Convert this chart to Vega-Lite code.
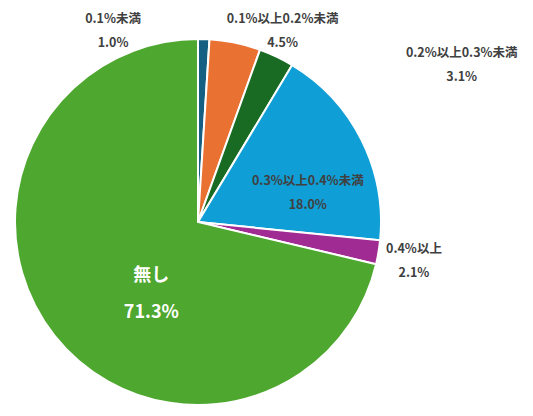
{
  "$schema": "https://vega.github.io/schema/vega-lite/v6.json",
  "width": 396,
  "height": 388,
  "autosize": "none",
  "padding": {"left": 0, "top": 28, "right": 137, "bottom": 0},
  "background": "white",
  "config": {"view": {"stroke": null}},
  "data": {
    "values": [
      {"rank": 1, "cat": "0.1%未満", "value": 1.0, "label": "0.1%未満\n1.0%"},
      {"rank": 2, "cat": "0.1%以上0.2%未満", "value": 4.5, "label": "0.1%以上0.2%未満\n4.5%"},
      {"rank": 3, "cat": "0.2%以上0.3%未満", "value": 3.1, "label": "0.2%以上0.3%未満\n3.1%"},
      {"rank": 4, "cat": "0.3%以上0.4%未満", "value": 18.0, "label": "0.3%以上0.4%未満\n18.0%"},
      {"rank": 5, "cat": "0.4%以上", "value": 2.1, "label": "0.4%以上\n2.1%"},
      {"rank": 6, "cat": "無し", "value": 71.3, "label": "無し\n71.3%"}
    ]
  },
  "encoding": {
    "theta": {"field": "value", "type": "quantitative", "stack": true},
    "order": {"field": "rank", "type": "quantitative"}
  },
  "layer": [
    {
      "mark": {"type": "arc", "outerRadius": 183, "stroke": "white", "strokeWidth": 2},
      "encoding": {
        "color": {
          "field": "cat",
          "type": "nominal",
          "sort": null,
          "scale": {
            "domain": ["0.1%未満", "0.1%以上0.2%未満", "0.2%以上0.3%未満", "0.3%以上0.4%未満", "0.4%以上", "無し"],
            "range": ["#156082", "#E97132", "#196B24", "#0F9ED5", "#A02B93", "#4EA72E"]
          },
          "legend": null
        }
      }
    },
    {
      "mark": {"type": "text", "radius": 194, "dx": -91, "dy": -9, "lineBreak": "\n", "lineHeight": 24, "font": "Noto Sans CJK JP", "fontSize": 12.5, "fontWeight": "bold", "fill": "#404040"},
      "encoding": {"text": {"condition": {"test": "datum.cat === '0.1%未満'", "field": "label"}, "value": ""}}
    },
    {
      "mark": {"type": "text", "radius": 200, "dx": 44, "dy": -7, "lineBreak": "\n", "lineHeight": 24, "font": "Noto Sans CJK JP", "fontSize": 12.5, "fontWeight": "bold", "fill": "#404040"},
      "encoding": {"text": {"condition": {"test": "datum.cat === '0.1%以上0.2%未満'", "field": "label"}, "value": ""}}
    },
    {
      "mark": {"type": "text", "radius": 200, "dx": 178, "dy": 12, "lineBreak": "\n", "lineHeight": 24, "font": "Noto Sans CJK JP", "fontSize": 12.5, "fontWeight": "bold", "fill": "#404040"},
      "encoding": {"text": {"condition": {"test": "datum.cat === '0.2%以上0.3%未満'", "field": "label"}, "value": ""}}
    },
    {
      "mark": {"type": "text", "radius": 115, "dx": 7, "dy": 11, "lineBreak": "\n", "lineHeight": 24, "font": "Noto Sans CJK JP", "fontSize": 12.5, "fontWeight": "bold", "fill": "#404040"},
      "encoding": {"text": {"condition": {"test": "datum.cat === '0.3%以上0.4%未満'", "field": "label"}, "value": ""}}
    },
    {
      "mark": {"type": "text", "radius": 219, "dx": 0, "dy": -9, "lineBreak": "\n", "lineHeight": 24, "font": "Noto Sans CJK JP", "fontSize": 12.5, "fontWeight": "bold", "fill": "#404040"},
      "encoding": {"text": {"condition": {"test": "datum.cat === '0.4%以上'", "field": "label"}, "value": ""}}
    },
    {
      "mark": {"type": "text", "radius": 85, "dx": 20, "dy": 1, "lineBreak": "\n", "lineHeight": 37, "font": "Noto Sans CJK JP", "fontSize": 18, "fontWeight": "bold", "fill": "white"},
      "encoding": {"text": {"condition": {"test": "datum.cat === '無し'", "field": "label"}, "value": ""}}
    }
  ]
}
